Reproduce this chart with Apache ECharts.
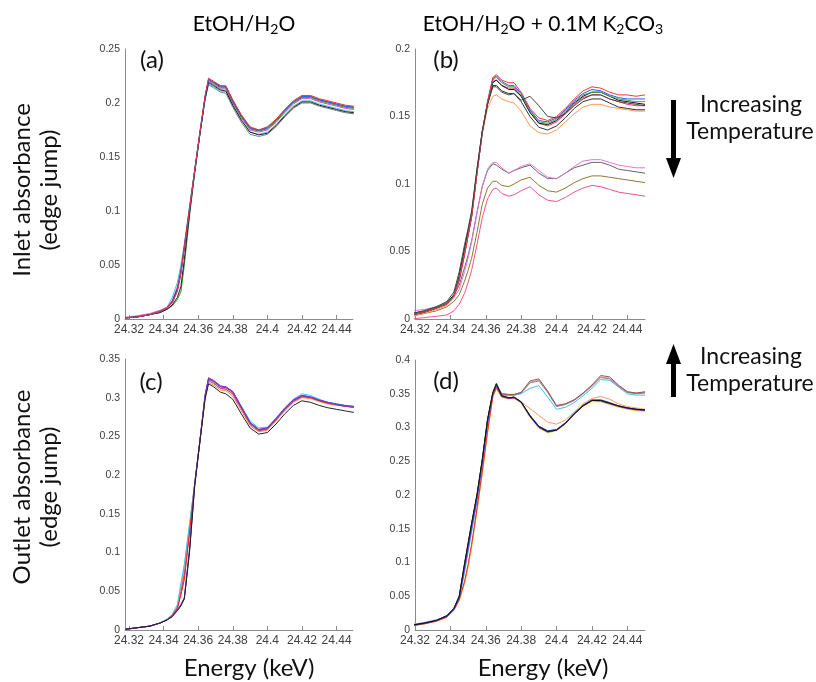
<!DOCTYPE html>
<html><head><meta charset="utf-8">
<script src="https://cdn.jsdelivr.net/npm/echarts@6/dist/echarts.min.js"></script>
<style>html,body{margin:0;padding:0;background:#fff}#c{width:816px;height:682px}</style>
</head><body><div id="c"></div>
<script>
// Energy grid (keV)
const energy = [24.318,24.325,24.332,24.338,24.342,24.345,24.348,24.35,24.352,24.355,24.358,24.361,24.364,24.366,24.369,24.373,24.376,24.38,24.385,24.39,24.395,24.4,24.405,24.41,24.415,24.42,24.425,24.43,24.435,24.44,24.445,24.45];
const xTicks = [24.32,24.34,24.36,24.38,24.4,24.42,24.44];

// (a) Inlet, EtOH/H2O
const a_red    = [.001,.002,.004,.007,.010,.015,.026,.042,.066,.102,.138,.173,.207,.223,.220,.216,.216,.203,.189,.178,.175,.178,.185,.194,.202,.207,.207,.204,.202,.200,.198,.197];
const a_blue   = [.001,.002,.004,.007,.010,.015,.026,.042,.066,.102,.138,.173,.206,.222,.219,.216,.215,.202,.188,.177,.1745,.177,.184,.193,.201,.206,.206,.203,.201,.199,.197,.196];
const a_magenta= [.0015,.003,.005,.008,.011,.017,.030,.046,.068,.103,.138,.172,.205,.220,.217,.213,.213,.200,.186,.175,.173,.175,.182,.191,.199,.204,.204,.201,.199,.197,.195,.194];
const a_cyan   = [.001,.002,.004,.007,.011,.020,.034,.050,.070,.104,.138,.172,.204,.218,.215,.211,.211,.198,.184,.173,.171,.173,.180,.189,.197,.202,.202,.199,.197,.195,.193,.192];
const a_green  = [.001,.002,.004,.006,.009,.012,.018,.025,.050,.095,.135,.171,.205,.221,.218,.214,.214,.201,.187,.176,.174,.176,.183,.192,.200,.205,.205,.202,.200,.198,.196,.195];
const a_black  = [.001,.002,.004,.006,.009,.013,.020,.030,.055,.098,.136,.171,.204,.219,.216,.212,.211,.198,.184,.173,.1705,.172,.179,.188,.196,.201,.201,.198,.196,.194,.192,.191];
const a_gray   = [.001,.002,.004,.007,.010,.015,.027,.044,.067,.102,.137,.172,.203,.217,.214,.210,.209,.196,.182,.171,.169,.171,.178,.187,.195,.200,.200,.197,.195,.193,.191,.190];
const a_navy   = [.001,.002,.004,.007,.010,.016,.028,.043,.066,.101,.137,.172,.206,.222,.219,.215,.215,.202,.188,.177,.175,.177,.184,.193,.201,.206,.206,.203,.201,.199,.197,.196];

// (b) Inlet, EtOH/H2O + 0.1M K2CO3
const b_red    = [.003,.005,.008,.011,.017,.029,.048,.062,.076,.108,.138,.161,.179,.181,.177,.175,.175,.168,.156,.149,.147,.150,.156,.163,.169,.172,.171,.168,.166,.166,.165,.166];
const b_blue   = [.003,.005,.008,.011,.017,.029,.048,.062,.076,.108,.138,.161,.178,.180,.176,.173,.173,.167,.155,.147,.146,.149,.155,.162,.167,.170,.169,.166,.164,.163,.163,.163];
const b_green  = [.004,.006,.009,.012,.017,.030,.049,.062,.076,.108,.138,.160,.177,.179,.175,.172,.172,.166,.154,.146,.145,.148,.154,.161,.166,.168,.168,.165,.163,.162,.161,.161];
const b_black1 = [.003,.005,.008,.012,.018,.032,.052,.065,.078,.110,.139,.160,.175,.177,.173,.170,.170,.165,.153,.145,.144,.147,.153,.160,.165,.168,.168,.165,.162,.161,.160,.159];
const b_black2 = [.004,.006,.009,.013,.020,.035,.055,.067,.080,.111,.139,.159,.172,.172,.168,.166,.167,.162,.165,.158,.150,.149,.152,.158,.163,.166,.166,.163,.161,.160,.159,.158];
const b_magenta= [.003,.005,.008,.011,.017,.029,.048,.062,.076,.108,.138,.160,.176,.177,.173,.171,.171,.165,.153,.145,.143,.146,.152,.159,.164,.166,.166,.163,.161,.159,.158,.158];
const b_black3 = [.003,.005,.008,.011,.017,.030,.050,.063,.077,.108,.138,.159,.173,.173,.169,.167,.167,.161,.150,.142,.140,.143,.149,.156,.161,.163,.163,.160,.157,.156,.155,.155];
const b_orange = [.002,.004,.007,.010,.016,.028,.047,.061,.075,.107,.137,.156,.165,.166,.163,.161,.160,.154,.143,.138,.137,.140,.146,.152,.157,.159,.159,.157,.156,.155,.154,.154];
const b_violet = [.006,.007,.009,.012,.016,.022,.035,.045,.057,.078,.098,.111,.116,.116,.112,.108,.110,.113,.115,.110,.105,.104,.108,.113,.117,.118,.118,.116,.114,.113,.112,.112];
const b_gray   = [.004,.006,.009,.012,.017,.025,.038,.047,.058,.079,.098,.110,.115,.114,.111,.108,.110,.112,.114,.108,.104,.104,.108,.112,.114,.116,.116,.114,.111,.110,.109,.108];
const b_olive  = [.002,.004,.006,.009,.013,.018,.028,.036,.045,.064,.085,.097,.102,.102,.099,.098,.100,.103,.105,.099,.095,.094,.097,.101,.104,.106,.106,.105,.104,.103,.102,.101];
const b_pink   = [.000,.001,.002,.003,.006,.011,.019,.027,.036,.055,.075,.089,.096,.097,.093,.091,.092,.095,.098,.092,.088,.087,.090,.094,.097,.099,.098,.096,.094,.093,.092,.091];

// (c) Outlet, EtOH/H2O
const c_cyan   = [.001,.003,.005,.009,.014,.020,.033,.060,.085,.137,.190,.245,.302,.322,.320,.314,.313,.308,.289,.270,.261,.262,.274,.287,.298,.305,.303,.298,.294,.292,.290,.288];
const c_orange = [.001,.003,.005,.009,.014,.019,.031,.056,.082,.135,.189,.244,.300,.320,.316,.310,.309,.302,.283,.264,.256,.258,.270,.283,.294,.300,.299,.295,.292,.290,.289,.288];
const c_red    = [.001,.003,.005,.009,.013,.019,.028,.045,.065,.125,.189,.244,.302,.324,.321,.314,.313,.307,.287,.267,.258,.260,.272,.285,.296,.302,.300,.296,.293,.291,.289,.288];
const c_blue   = [.001,.003,.005,.009,.013,.018,.026,.033,.042,.105,.188,.244,.303,.325,.322,.315,.314,.308,.288,.268,.259,.261,.273,.286,.297,.303,.301,.297,.294,.292,.290,.289];
const c_purple = [.001,.003,.005,.009,.013,.018,.026,.032,.041,.102,.187,.244,.304,.326,.322,.315,.314,.308,.288,.268,.259,.261,.273,.286,.297,.303,.301,.297,.294,.291,.289,.288];
const c_black  = [.001,.003,.005,.009,.013,.017,.025,.031,.040,.100,.186,.243,.298,.318,.314,.307,.305,.298,.279,.261,.253,.255,.266,.279,.290,.296,.294,.290,.287,.285,.283,.281];
const c_gray   = [.001,.003,.005,.009,.014,.019,.029,.050,.075,.130,.189,.244,.301,.322,.318,.312,.311,.305,.285,.266,.257,.259,.271,.284,.295,.301,.300,.296,.293,.291,.289,.287];
const c_magenta= [.001,.003,.005,.009,.013,.019,.029,.048,.070,.128,.189,.244,.302,.323,.319,.312,.311,.305,.286,.266,.257,.259,.271,.284,.295,.301,.300,.296,.293,.291,.289,.288];

// (d) Outlet, EtOH/H2O + 0.1M K2CO3
const d_brown  = [.007,.010,.014,.021,.032,.050,.098,.128,.158,.200,.252,.312,.352,.365,.350,.349,.349,.352,.369,.372,.354,.332,.335,.341,.351,.363,.377,.375,.363,.353,.351,.353];
const d_gray   = [.007,.010,.014,.021,.032,.050,.097,.127,.157,.199,.251,.311,.351,.363,.349,.348,.348,.351,.366,.369,.352,.331,.334,.340,.350,.361,.374,.372,.361,.352,.350,.351];
const d_pink   = [.008,.011,.015,.021,.032,.049,.095,.126,.156,.198,.250,.310,.350,.362,.350,.349,.349,.352,.367,.370,.353,.333,.335,.341,.351,.362,.375,.373,.362,.353,.351,.352];
const d_cyan   = [.008,.011,.015,.020,.031,.046,.085,.115,.145,.190,.245,.305,.349,.360,.348,.347,.348,.350,.358,.362,.345,.327,.330,.337,.347,.358,.371,.370,.360,.350,.348,.348];
const d_black  = [.007,.010,.014,.021,.032,.050,.098,.128,.158,.200,.252,.312,.352,.365,.347,.344,.345,.338,.317,.301,.294,.296,.306,.320,.332,.340,.340,.336,.332,.329,.327,.326];
const d_blue   = [.007,.010,.014,.021,.031,.048,.094,.124,.154,.197,.249,.309,.350,.363,.347,.344,.345,.338,.318,.302,.295,.297,.307,.321,.333,.341,.341,.337,.332,.329,.327,.326];
const d_purple = [.007,.010,.014,.020,.031,.047,.090,.120,.150,.193,.246,.306,.349,.362,.346,.343,.344,.337,.316,.300,.293,.296,.306,.320,.332,.340,.339,.335,.331,.328,.326,.325];
const d_green  = [.007,.010,.014,.021,.032,.050,.097,.127,.157,.199,.251,.311,.351,.364,.347,.344,.345,.338,.318,.302,.295,.297,.307,.321,.333,.340,.340,.336,.332,.329,.327,.326];
const d_yellow = [.006,.009,.013,.019,.029,.043,.068,.092,.122,.175,.230,.290,.345,.357,.345,.342,.343,.336,.315,.299,.292,.295,.305,.319,.331,.338,.338,.334,.330,.327,.325,.324];
const d_orange = [.006,.009,.013,.019,.029,.044,.070,.094,.124,.177,.232,.292,.346,.358,.345,.343,.344,.338,.328,.318,.308,.305,.311,.323,.335,.343,.346,.342,.335,.331,.329,.327];
const d_red    = [.006,.009,.013,.019,.030,.045,.072,.097,.127,.180,.235,.295,.347,.359,.346,.343,.344,.337,.317,.301,.294,.296,.306,.320,.332,.340,.340,.336,.332,.329,.327,.326];

const panelA = [[a_gray,'#7f7f7f'],[a_cyan,'#33ccee'],[a_magenta,'#ee44aa'],[a_green,'#339933'],[a_black,'#222222'],[a_navy,'#1f2a80'],[a_blue,'#3366ff'],[a_red,'#ee3333']];
const panelB = [[b_pink,'#ee5588'],[b_olive,'#8c7a2a'],[b_gray,'#666666'],[b_violet,'#dd77dd'],[b_orange,'#ff9955'],[b_black3,'#333333'],[b_magenta,'#ee3377'],[b_black1,'#111111'],[b_green,'#44aa44'],[b_blue,'#3355ff'],[b_red,'#ff3333'],[b_black2,'#444444']];
const panelC = [[c_gray,'#888888'],[c_magenta,'#dd33aa'],[c_orange,'#ff8844'],[c_cyan,'#33ccee'],[c_red,'#ee2222'],[c_blue,'#3344ee'],[c_purple,'#8833cc'],[c_black,'#222222']];
const panelD = [[d_cyan,'#44bbee'],[d_pink,'#dd88cc'],[d_gray,'#888888'],[d_brown,'#995544'],[d_yellow,'#f0e020'],[d_orange,'#ff9966'],[d_red,'#dd3333'],[d_purple,'#9933cc'],[d_green,'#339944'],[d_blue,'#2244dd'],[d_black,'#111111']];

const chart = echarts.init(document.getElementById('c'), null, {renderer:'canvas'});
const axisColor = '#8c8c8c';
const lblFont = 'Liberation Sans, Arial, sans-serif';
function xAx(gi, min, max){
  return {type:'value', gridIndex:gi, min:min, max:max,
    axisLine:{show:true, onZero:false, lineStyle:{color:axisColor, width:1}},
    axisTick:{show:true, inside:true, length:4, customValues:xTicks, lineStyle:{color:axisColor}},
    axisLabel:{customValues:xTicks, margin:5, fontFamily:lblFont, fontSize:12, color:'#404040', formatter:v=>String(+(+v).toFixed(2))},
    splitLine:{show:false}};
}
function yAx(gi, max){
  return {type:'value', gridIndex:gi, min:0, max:max, interval:0.05,
    axisLine:{show:true, lineStyle:{color:axisColor, width:1}},
    axisTick:{show:false},
    axisLabel:{margin:5, fontFamily:lblFont, fontSize:10.5, color:'#404040', formatter:v=>String(+(+v).toFixed(2))},
    splitLine:{show:false}};
}
const series = [];
[panelA,panelB,panelC,panelD].forEach((p,gi)=>{
  p.forEach(([arr,col])=>{
    series.push({type:'line', xAxisIndex:gi, yAxisIndex:gi, showSymbol:false, symbol:'none', silent:true,
      clip:true, lineStyle:{width:1, color:col}, data:energy.map((x,i)=>[x,arr[i]])});
  });
});
const tf = 'Lato, "Open Sans", sans-serif';
const rich = {n:{fontFamily:tf,fontSize:21,lineHeight:27,color:'#111'}, s:{fontFamily:tf,fontSize:14,lineHeight:17,padding:[10,0,0,0],color:'#111'}};
function txt(x,y,t,size,rot){
  return {type:'text', x:x, y:y, rotation:rot||0, style:{text:t, font:size+'px '+tf, fill:'#111', align:'center', verticalAlign:'middle'}};
}
chart.setOption({
  animation:false,
  grid:[
    {left:125, top:49, width:228, height:270},
    {left:415, top:49, width:230, height:270},
    {left:125, top:359, width:228, height:271},
    {left:415, top:360, width:230, height:270}
  ],
  xAxis:[xAx(0,24.3177,24.4495), xAx(1,24.32,24.45), xAx(2,24.3177,24.4495), xAx(3,24.32,24.45)],
  yAxis:[yAx(0,0.25), yAx(1,0.2), yAx(2,0.35), yAx(3,0.4)],
  series:series,
  graphic:[
    {type:'text', x:244, y:24, style:{text:'{n|EtOH/H}{s|2}{n|O}', rich:rich, align:'center', verticalAlign:'middle'}},
    {type:'text', x:543, y:24, style:{text:'{n|EtOH/H}{s|2}{n|O + 0.1M K}{s|2}{n|CO}{s|3}', rich:rich, align:'center', verticalAlign:'middle'}},
    txt(22,190,'Inlet absorbance',24,Math.PI/2),
    txt(49,190,'(edge jump)',24,Math.PI/2),
    txt(22,487,'Outlet absorbance',24,Math.PI/2),
    txt(49,487,'(edge jump)',24,Math.PI/2),
    txt(249,668,'Energy (keV)',24,0),
    txt(543,668,'Energy (keV)',24,0),
    txt(152,60,'(a)',24,0),
    txt(446,60,'(b)',24,0),
    txt(151,382,'(c)',24,0),
    txt(446,381,'(d)',24,0),
    txt(751,105,'Increasing',23,0),
    txt(750,132,'Temperature',23,0),
    txt(751,357,'Increasing',23,0),
    txt(750,384,'Temperature',23,0),
    {type:'polygon', shape:{points:[[671,100],[676,100],[676,158],[681,158],[673.5,178],[666,158],[671,158]]}, style:{fill:'#000'}},
    {type:'polygon', shape:{points:[[671,397],[676,397],[676,364],[681,364],[673.5,344],[666,364],[671,364]]}, style:{fill:'#000'}}
  ]
});
</script></body></html>
